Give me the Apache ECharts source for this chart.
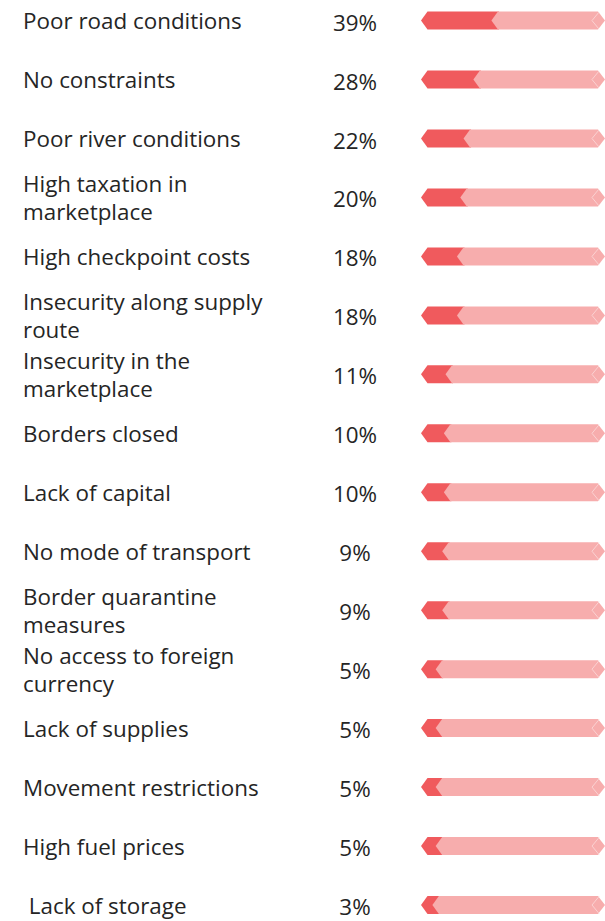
<!DOCTYPE html>
<html>
<head>
<meta charset="utf-8">
<script src="https://cdn.jsdelivr.net/npm/echarts@6/dist/echarts.min.js"></script>
<style>
html,body{margin:0;padding:0;background:#fff;}
#chart{width:605px;height:921px;}
</style>
</head>
<body>
<div id="chart"></div>
<script>
const categories = [
  'Poor road conditions',
  'No constraints',
  'Poor river conditions',
  'High taxation in\nmarketplace',
  'High checkpoint costs',
  'Insecurity along supply\nroute',
  'Insecurity in the\nmarketplace',
  'Borders closed',
  'Lack of capital',
  'No mode of transport',
  'Border quarantine\nmeasures',
  'No access to foreign\ncurrency',
  'Lack of supplies',
  'Movement restrictions',
  'High fuel prices',
  ' Lack of storage'
];
const values = [39, 28, 22, 20, 18, 18, 11, 10, 10, 9, 9, 5, 5, 5, 5, 3];

const RED = '#f05a5d';
const PINK = '#f7adad';
const FONT = '"Open Sans", "Noto Sans", sans-serif';

const chart = echarts.init(document.getElementById('chart'), null, {renderer: 'svg'});

function renderItem(params, api) {
  const v = api.value(0);
  const idx = api.value(1);
  const pv = api.coord([v, idx]);
  const cs = params.coordSys;
  const xL = cs.x, xR = cs.x + cs.width;
  const yc = pv[1], half = 9, tip = 6.5;
  const top = yc - half, bot = yc + half;
  const xv = pv[0];
  return {
    type: 'group',
    children: [
      {type: 'polygon', shape: {points: [[xL, yc], [xL + tip, top], [xv + 1, top], [xv + 1, bot], [xL + tip, bot]]}, style: {fill: RED}},
      {type: 'polygon', shape: {points: [[xv, top], [xR - 7, top], [xR, yc], [xR - 7, bot], [xv, bot], [xv - tip, yc]]}, style: {fill: PINK}},
      {type: 'polyline', shape: {points: [[xR - 6, top + 0.5], [xR - 13, yc], [xR - 6, bot - 0.5]]}, style: {stroke: '#fbd2d2', lineWidth: 1, fill: null}},
      {type: 'text', x: xL - 66, y: yc + 1.5, style: {text: v + '%', font: '22.4px ' + FONT, fill: '#252525', align: 'center', verticalAlign: 'middle'}}
    ]
  };
}

chart.setOption({
  animation: false,
  grid: {left: 421, right: 0, top: 20.6, bottom: 9.4, containLabel: false},
  xAxis: {type: 'value', min: -7.9, max: 104.3, show: false},
  yAxis: {
    type: 'category',
    data: categories,
    inverse: true,
    boundaryGap: false,
    axisLine: {show: false},
    axisTick: {show: false},
    splitLine: {show: false},
    axisLabel: {
      align: 'left',
      margin: 398,
      fontSize: 22.4,
      fontFamily: '"Open Sans", "Noto Sans", sans-serif',
      color: '#252525',
      lineHeight: 28,
      padding: [4, 0, 0, 0],
      interval: 0
    }
  },
  series: [{
    type: 'custom',
    renderItem: renderItem,
    clip: false,
    encode: {x: 0, y: 1},
    data: values.map((v, i) => [v, i])
  }]
});
</script>
</body>
</html>
